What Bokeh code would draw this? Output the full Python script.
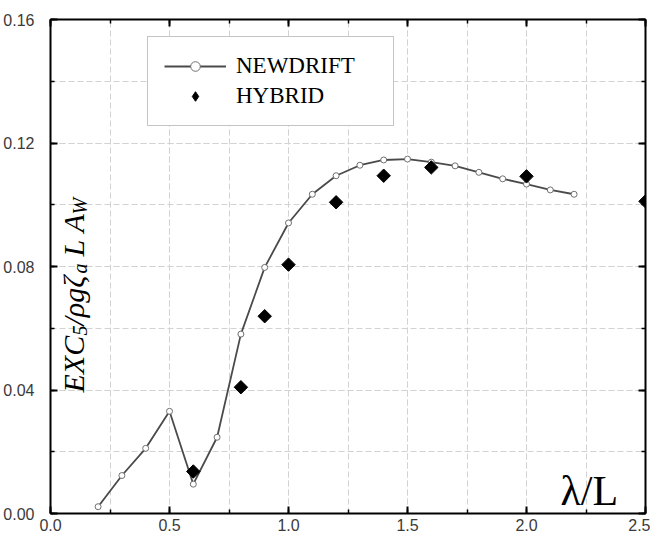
import math
import numpy as np
from bokeh.plotting import figure
from bokeh.models import (Range1d, LinearAxis, SingleIntervalTicker, NumeralTickFormatter,
                          Label, Legend, LegendItem, Grid)
from bokeh.embed import file_html
from bokeh.resources import INLINE

# ---------------- data ----------------
newdrift_x = [0.2, 0.3, 0.4, 0.5, 0.6, 0.7, 0.8, 0.9, 1.0, 1.1, 1.2, 1.3, 1.4, 1.5,
              1.6, 1.7, 1.8, 1.9, 2.0, 2.1, 2.2]
newdrift_y = [0.0022, 0.0123, 0.0211, 0.0331, 0.0095, 0.0247, 0.0581, 0.0797, 0.0941,
              0.1034, 0.1094, 0.1128, 0.1145, 0.1148, 0.1138, 0.1126, 0.1105, 0.1084,
              0.1067, 0.1048, 0.1034]
hybrid_x = [0.6, 0.8, 0.9, 1.0, 1.2, 1.4, 1.6, 2.0, 2.5]
hybrid_y = [0.0136, 0.0409, 0.0639, 0.0806, 0.1008, 0.1094, 0.1121, 0.1092, 0.1011]

series_names = ["NEWDRIFT", "HYBRID"]
x_label = "λ/L"

# ---------------- figure ----------------
p = figure(width=650, height=536, x_range=Range1d(0, 2.5), y_range=Range1d(0, 0.16),
           output_backend="svg", toolbar_location=None,
           x_axis_type=None, y_axis_type=None,
           min_border_left=50, min_border_right=5, min_border_top=19, min_border_bottom=23)
p.outline_line_color = None
p.background_fill_color = "white"
p.border_fill_color = "white"

xt = SingleIntervalTicker(interval=0.5, num_minor_ticks=2)
yt = SingleIntervalTicker(interval=0.04, num_minor_ticks=2)


def make_axis(ticker, fmt, labels):
    ax = LinearAxis(ticker=ticker, formatter=NumeralTickFormatter(format=fmt))
    ax.axis_line_color = "black"
    ax.axis_line_width = 2
    ax.major_tick_in = 7
    ax.major_tick_out = 0
    ax.minor_tick_in = 4
    ax.minor_tick_out = 0
    ax.major_tick_line_color = "black"
    ax.major_tick_line_width = 2
    ax.minor_tick_line_color = "black"
    ax.minor_tick_line_width = 1.5
    if labels:
        ax.major_label_text_font = "Liberation Sans"
        ax.major_label_text_font_size = "16px"
        ax.major_label_text_color = "#3a3a3a"
    else:
        ax.major_label_text_font_size = "0px"
        ax.major_label_text_color = None
        ax.major_label_standoff = 0
    return ax


xa = make_axis(xt, "0.0", True)
xa.major_label_standoff = 5
ya = make_axis(yt, "0.00", True)
ya.major_label_standoff = 16
p.add_layout(xa, "below")
p.add_layout(ya, "left")
p.add_layout(make_axis(xt, "0.0", False), "above")
p.add_layout(make_axis(yt, "0.00", False), "right")

grid_style = dict(grid_line_color="#d2d2d2", grid_line_dash="6 3", grid_line_width=1,
                  minor_grid_line_color="#d2d2d2", minor_grid_line_dash="6 3",
                  minor_grid_line_width=1)
p.add_layout(Grid(dimension=0, ticker=xt, **grid_style))
p.add_layout(Grid(dimension=1, ticker=yt, **grid_style))

# ---------------- glyphs ----------------
line_r = p.line(newdrift_x, newdrift_y, line_color="#4a4a4a", line_width=1.8)
circ_r = p.scatter(newdrift_x, newdrift_y, marker="circle", size=6, fill_color="white",
                   line_color="#707070", line_width=1)
diam_r = p.scatter(hybrid_x, hybrid_y, marker="square", angle=math.pi / 4, size=9.5,
                   fill_color="black", line_color="black")
# legend-only sample (not drawn in the plot area: NaN position)
legend_diam = p.scatter(x=np.array([np.nan]), y=np.array([np.nan]), marker="diamond",
                        fill_color="black", line_color="black")

legend = Legend(items=[LegendItem(label=series_names[0], renderers=[line_r, circ_r]),
                       LegendItem(label=series_names[1], renderers=[legend_diam])],
                location=(97, 387), orientation="vertical",
                border_line_color="#8a8a8a", border_line_width=1.5,
                background_fill_color="white", background_fill_alpha=1.0,
                label_text_font="Liberation Serif", label_text_font_size="23px",
                label_text_color="black", glyph_width=62, glyph_height=24,
                label_height=24, label_width=141, label_standoff=10,
                padding=16, spacing=4, margin=0)
p.add_layout(legend)

# ---------------- axis titles (inside the frame, as in the original) ----------------
p.add_layout(Label(x=510, y=23, x_units="screen", y_units="screen", text=x_label,
                   text_font="Liberation Serif", text_font_size="42px",
                   text_color="black", text_baseline="alphabetic"))

# y-axis title built from pieces (main text + subscripts), rotated
F, S = 30, 20
pieces = [
    ("EXC", F, 23, 121),
    ("5", S, 29, 178),
    ("/ρgζ", F, 23, 188),
    ("a", S, 29, 240),
    ("L", F, 23, 257),
    ("A", F, 23, 281),
    ("W", S, 29, 299),
]
for txt, fs, xx, yy in pieces:
    p.add_layout(Label(x=xx, y=yy, x_units="screen", y_units="screen", text=txt,
                       angle=math.pi / 2, text_font="Liberation Serif",
                       text_font_style="italic", text_font_size=f"{fs}px",
                       text_color="black", text_baseline="alphabetic", text_align="left"))

open("out.html", "w").write(file_html(p, INLINE))
